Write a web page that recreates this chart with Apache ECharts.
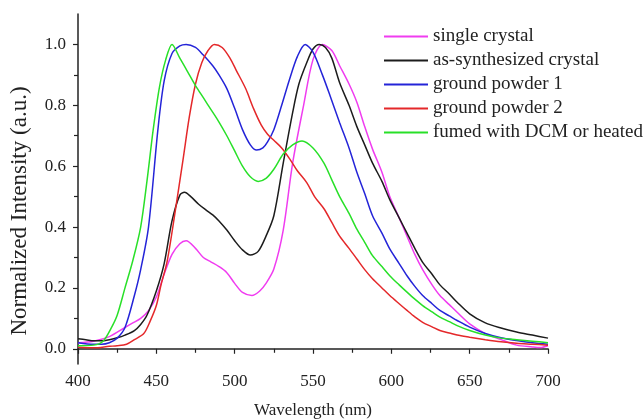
<!DOCTYPE html>
<html>
<head>
<meta charset="utf-8">
<script src="https://cdn.jsdelivr.net/npm/echarts@6/dist/echarts.min.js"></script>
<style>
  html, body { margin: 0; padding: 0; background: #fff; }
  #chart { width: 644px; height: 420px; }
</style>
</head>
<body>
<div id="chart"></div>
<script>
// emission spectra
var seriesNames = ["single crystal", "as-synthesized crystal", "ground powder 1", "ground powder 2", "fumed with DCM or heated"];
var colorList = ["#f03cf0", "#1c1c1c", "#2424d8", "#e4282a", "#28e028"];

var singleX = [400,410,420,430,435,440,445,450,455,460,465,469,475,480,485,490,495,500,505,511,516,520,525,531,537,544,550,556,562,567,573,578,583,588,594,599,605,610,615,620,626,631,637,642,650,660,670,680,690,695,700];
var singleY = [0.02,0.025,0.04,0.07,0.085,0.10,0.125,0.17,0.245,0.31,0.345,0.355,0.33,0.30,0.285,0.27,0.25,0.215,0.185,0.175,0.19,0.215,0.262,0.39,0.61,0.80,0.95,1.0,0.98,0.93,0.87,0.81,0.73,0.656,0.58,0.50,0.43,0.37,0.31,0.26,0.21,0.175,0.145,0.12,0.082,0.05,0.03,0.012,0.006,0.004,0.01];

var asSynX = [400,405,410,415,420,425,430,436,440,444,450,455,460,465,468,472,477,482,486,490,495,500,505,510,515,520,525,531,537,541,546,550,554,558,562,567,573,578,583,588,594,599,605,610,615,620,626,631,637,642,650,660,670,680,690,700];
var asSynY = [0.033,0.03,0.026,0.026,0.03,0.036,0.045,0.06,0.08,0.11,0.19,0.28,0.42,0.505,0.514,0.50,0.475,0.455,0.44,0.42,0.39,0.355,0.325,0.308,0.32,0.37,0.437,0.61,0.776,0.87,0.94,0.985,1.0,0.99,0.955,0.874,0.80,0.73,0.67,0.61,0.55,0.49,0.43,0.38,0.33,0.284,0.245,0.21,0.18,0.153,0.115,0.085,0.068,0.055,0.045,0.035];

var ground1X = [400,410,415,420,425,430,436,440,445,451,455,460,465,469,475,480,486,490,495,500,505,510,514,518,521,525,530,535,540,545,550,556,561,567,573,578,583,588,594,599,605,610,615,620,626,631,637,642,650,660,670,680,690,700];
var ground1Y = [0.02,0.015,0.015,0.02,0.035,0.07,0.175,0.26,0.40,0.72,0.88,0.97,0.995,1.0,0.99,0.965,0.93,0.90,0.855,0.79,0.72,0.67,0.653,0.66,0.68,0.72,0.80,0.885,0.96,1.0,0.975,0.90,0.83,0.743,0.66,0.58,0.51,0.437,0.38,0.328,0.28,0.24,0.205,0.175,0.148,0.126,0.108,0.093,0.071,0.05,0.036,0.027,0.02,0.015];

var ground2X = [400,410,420,425,431,436,442,446,450,453,457,462,467,471,475,479,483,487,492,497,501,507,512,517,521,525,530,535,540,546,551,557,562,567,573,578,583,588,594,599,605,610,615,620,626,631,637,642,650,660,670,680,690,700];
var ground2Y = [0.005,0.003,0.008,0.01,0.015,0.03,0.05,0.09,0.142,0.21,0.29,0.45,0.62,0.76,0.87,0.94,0.98,1.0,0.99,0.955,0.915,0.855,0.79,0.735,0.705,0.685,0.66,0.625,0.585,0.546,0.50,0.46,0.415,0.37,0.33,0.295,0.26,0.23,0.20,0.175,0.148,0.126,0.105,0.087,0.072,0.06,0.052,0.045,0.038,0.03,0.023,0.018,0.015,0.012];

var fumedX = [400,410,416,421,425,430,435,440,444,448,452,456,460,465,470,475,480,485,490,495,500,505,510,515,520,525,531,537,543,550,557,562,567,573,578,583,588,594,599,605,610,615,620,626,631,637,642,650,660,670,680,690,700];
var fumedY = [0.01,0.012,0.025,0.066,0.11,0.2,0.29,0.40,0.55,0.72,0.86,0.95,1.0,0.955,0.91,0.865,0.825,0.785,0.745,0.70,0.65,0.60,0.565,0.55,0.56,0.59,0.64,0.67,0.683,0.66,0.61,0.555,0.50,0.445,0.393,0.35,0.306,0.27,0.24,0.21,0.186,0.163,0.142,0.121,0.104,0.089,0.076,0.06,0.045,0.035,0.03,0.025,0.02];

var xTicks = [400, 450, 500, 550, 600, 650, 700];
var yTicks = [0, 0.2, 0.4, 0.6, 0.8, 1.0];
var yMinorTicks = [0.1, 0.3, 0.5, 0.7, 0.9];

var allX = [singleX, asSynX, ground1X, ground2X, fumedX];
var allY = [singleY, asSynY, ground1Y, ground2Y, fumedY];

function pairs(xs, ys) {
  return xs.map(function (x, i) { return [x, ys[i]]; });
}

var font = "'Liberation Serif', 'Times New Roman', serif";
var axisColor = "#222";

var myChart = echarts.init(document.getElementById("chart"));
var option = {
  animation: false,
  color: colorList,
  grid: { left: 78, right: 96, top: 14, bottom: 56, outerBoundsMode: "none" },
  legend: {
    orient: "vertical",
    left: 379,
    top: 22,
    icon: "rect",
    itemWidth: 44,
    itemHeight: 2,
    itemGap: 5,
    textStyle: { fontFamily: font, fontSize: 19, color: "#222", lineHeight: 19 },
    data: seriesNames
  },
  xAxis: {
    type: "value",
    min: 400,
    max: 700,
    interval: 50,
    name: "Wavelength (nm)",
    nameLocation: "middle",
    nameGap: 38,
    nameTextStyle: { fontFamily: font, fontSize: 17, color: "#222" },
    axisLine: { show: true, lineStyle: { color: axisColor, width: 1.5 } },
    axisTick: { show: true, inside: false, length: 5, lineStyle: { color: axisColor, width: 1.2 } },
    minorTick: { show: true, splitNumber: 2, length: 4, lineStyle: { color: axisColor, width: 1.2 } },
    axisLabel: { fontFamily: font, fontSize: 17, color: "#222", margin: 9 },
    splitLine: { show: false }
  },
  yAxis: [
    {
      type: "value",
      min: -0.05,
      max: 1.1,
      position: "left",
      axisLine: { show: true, lineStyle: { color: axisColor, width: 1.5 } },
      axisTick: { show: true, length: 5, customValues: yTicks, lineStyle: { color: axisColor, width: 1.2 } },
      axisLabel: {
        customValues: yTicks,
        fontFamily: font, fontSize: 17, color: "#222", margin: 12,
        formatter: function (v) { return v.toFixed(1); }
      },
      splitLine: { show: false }
    },
    {
      // minor ticks only
      type: "value",
      min: -0.05,
      max: 1.1,
      position: "left",
      axisLine: { show: false },
      axisTick: { show: true, length: 4, customValues: yMinorTicks, lineStyle: { color: axisColor, width: 1.2 } },
      axisLabel: { show: false, customValues: yMinorTicks },
      splitLine: { show: false }
    }
  ],
  graphic: [
    {
      type: "text",
      x: 20,
      y: 211,
      rotation: Math.PI / 2,
      style: {
        text: "Normalized Intensity (a.u.)",
        fontFamily: font,
        fontSize: 23,
        fill: "#222",
        align: "center",
        verticalAlign: "middle"
      }
    }
  ],
  series: seriesNames.map(function (name, i) {
    return {
      name: name,
      type: "line",
      symbol: "none",
      smooth: 0.3,
      lineStyle: { width: 1.5, color: colorList[i] },
      itemStyle: { color: colorList[i] },
      data: pairs(allX[i], allY[i])
    };
  })
};
myChart.setOption(option);
</script>
</body>
</html>
